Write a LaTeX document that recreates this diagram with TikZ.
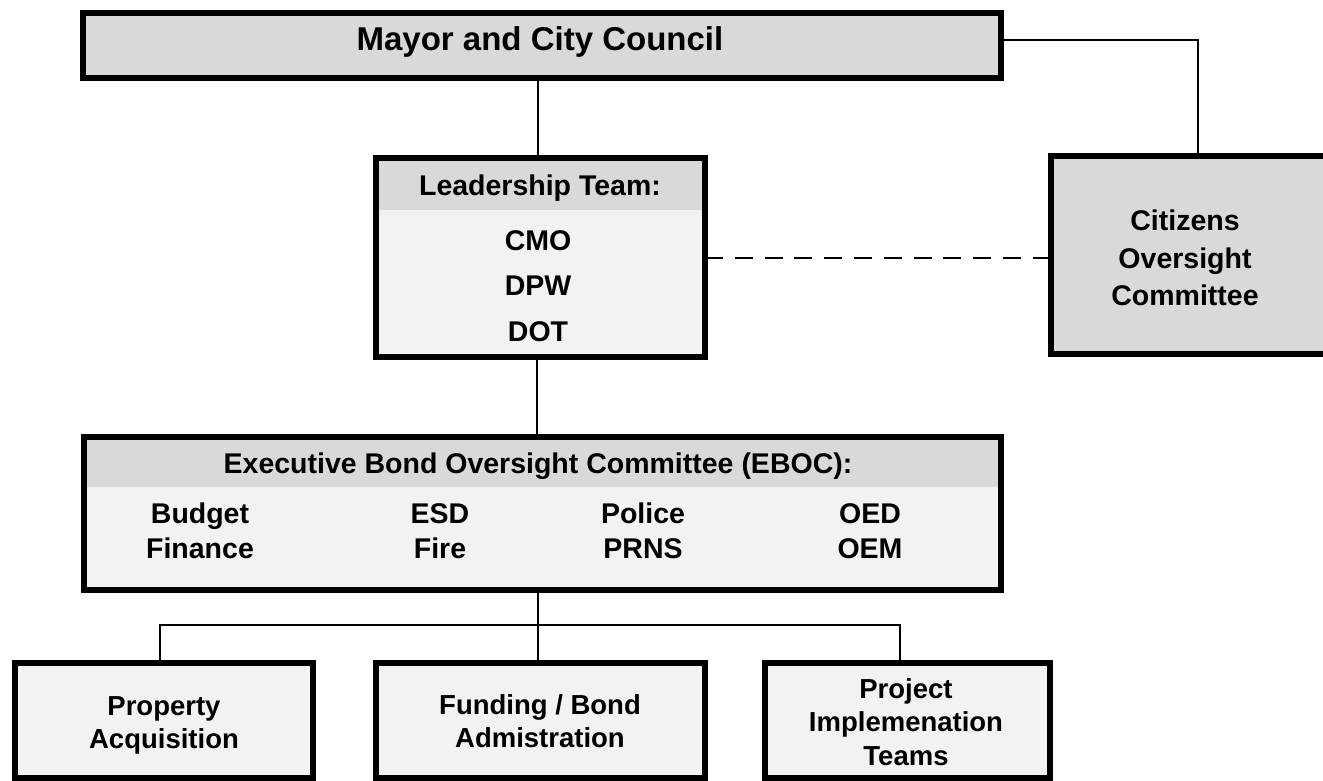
\documentclass[tikz,border=0pt]{standalone}
\usepackage{fontspec}
\setmainfont{Liberation Sans}
\definecolor{hdr}{HTML}{D9D9D9}
\definecolor{bodyfill}{HTML}{F2F2F2}
\begin{document}
\begin{tikzpicture}[x=1pt,y=-1pt,
  box/.style={draw=black, line width=6pt, inner sep=0pt, outer sep=0pt},
  conn/.style={draw=black, line width=2pt},
  lbl/.style={inner sep=0pt, align=center, text=black, font=\bfseries\fontsize{28.5}{35}\selectfont},
  biglbl/.style={inner sep=0pt, align=center, text=black, font=\bfseries\fontsize{33}{40}\selectfont},
  botlbl/.style={inner sep=0pt, align=center, anchor=base, text=black, font=\bfseries\fontsize{27.5}{33.5}\selectfont},
  hdrband/.style={path picture={\fill[hdr] (path picture bounding box.north west) rectangle ([yshift=-#1]path picture bounding box.north east);}}
]
\useasboundingbox (0,0) rectangle (1323,781);
\begin{scope}
\clip (0,0) rectangle (1323,781);
% boxes
\node[box, fill=hdr, minimum width=918pt, minimum height=65pt] (mayor) at (542,45.5) {};
\node[box, fill=bodyfill, hdrband=52pt, minimum width=329pt, minimum height=199pt] (lead) at (540.5,257.5) {};
\node[box, fill=hdr, minimum width=294pt, minimum height=198pt] (cit) at (1198,255) {};
\node[box, fill=bodyfill, hdrband=50pt, minimum width=917pt, minimum height=153pt] (eboc) at (542.5,513.5) {};
\node[box, fill=bodyfill, minimum width=298pt, minimum height=115pt] (prop) at (164,720.5) {};
\node[box, fill=bodyfill, minimum width=329pt, minimum height=115pt] (fund) at (540.5,720.5) {};
\node[box, fill=bodyfill, minimum width=285pt, minimum height=115pt] (proj) at (907.5,720.5) {};
% texts
\node[biglbl] (tmayor) at (540,42) {Mayor and City Council};
\node[lbl] (tlead) at (540,188) {Leadership Team:};
\node[lbl] (tcmo) at (538,241) {CMO};
\node[lbl] (tdpw) at (538,286) {DPW};
\node[lbl] (tdot) at (538,332) {DOT};
\node[lbl, anchor=base, font=\bfseries\fontsize{28.5}{37.5}\selectfont] (tcit) at (1185,305.5) {Citizens\\Oversight\\Committee};
\node[lbl] (teboc) at (538,466) {Executive Bond Oversight Committee (EBOC):};
\node[lbl, anchor=base] (tc1) at (200,558.5) {Budget\\Finance};
\node[lbl, anchor=base] (tc2) at (440,558.5) {ESD\\Fire};
\node[lbl, anchor=base] (tc3) at (643,558.5) {Police\\PRNS};
\node[lbl, anchor=base] (tc4) at (870,558.5) {OED\\OEM};
\node[botlbl] (tprop) at (164,748.5) {Property\\Acquisition};
\node[botlbl] (tfund) at (540,747.5) {Funding / Bond\\Admistration};
\node[botlbl] (tproj) at (906,765) {Project\\Implemenation\\Teams};
% connectors
\coordinate (mr) at (1198,40);
\coordinate (busl) at (160,625);
\coordinate (busr) at (900,625);
\draw[conn] (mayor.south -| 538,0) -- (lead.north -| 538,0);
\draw[conn] (mayor.east |- mr) -- (mr) -- (cit.north);
\draw[conn, dashed, dash pattern=on 18pt off 11.8pt] (lead.east) -- (lead.east -| cit.west);
\draw[conn] (lead.south -| 537,0) -- (eboc.north -| 537,0);
\draw[conn] (eboc.south -| 538,0) -- (fund.north -| 538,0);
\draw[conn] (prop.north -| busl) -- (busl) -- (busr) -- (proj.north -| busr);
\end{scope}
\end{tikzpicture}
\end{document}
